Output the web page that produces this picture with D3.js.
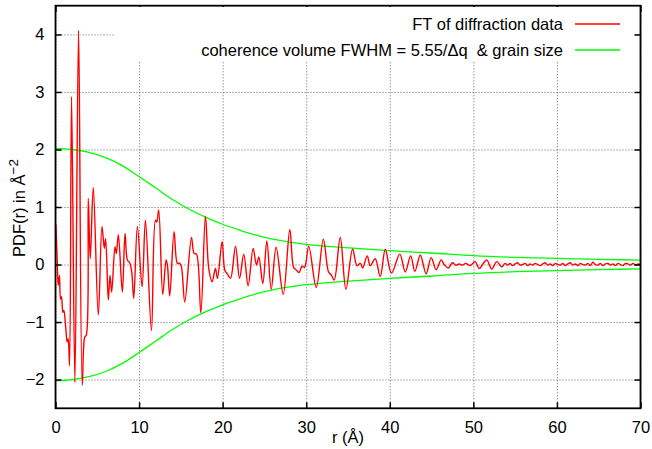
<!DOCTYPE html>
<html>
<head>
<meta charset="utf-8">
<script src="https://cdn.jsdelivr.net/npm/d3@7"></script>
<style>
  body { margin: 0; background: #fff; }
  svg text { font-family: "Liberation Sans", Arial, sans-serif; fill: #000; }
  .grid line { stroke: #666; stroke-width: 1; stroke-dasharray: 1,2; }
  .grid path { display: none; }
  .axis path { display: none; }
  .axis line { stroke: #000; stroke-width: 1.5; }
</style>
</head>
<body>
<div id="chart"></div>
<script>
// r positions (Å) of the transformed diffraction data
const rValues = [
  0.05, 0.2, 0.32, 0.42, 0.48, 0.6, 0.72, 0.88, 1.0, 1.2, 1.4, 1.52, 1.68,
  1.92, 2.32, 2.76, 3.2, 3.5, 3.68, 3.92, 4.16, 4.52, 5.12, 5.56, 5.84, 6.0,
  6.32, 6.52, 6.72, 7.12, 7.28, 7.52, 8.0, 8.32, 8.6, 8.88, 9.12, 9.36, 9.8,
  10.36, 10.76, 11.48, 11.96, 12.12, 12.35, 12.83, 13.23, 13.39, 13.67, 14.19,
  14.59, 14.87, 15.07, 15.47, 16.27, 16.59, 16.87, 17.39, 17.94, 18.34, 18.74,
  19.14, 19.38, 19.94, 20.26, 20.54, 20.94, 21.54, 22.02, 22.53, 23.05, 23.65,
  24.05, 24.33, 24.81, 25.29, 25.81, 26.4, 27.25, 28.04, 28.5, 28.85, 29.15,
  29.5, 29.8, 30.3, 31.2, 32.05, 32.67, 32.99, 33.35, 34.07, 34.75, 35.55,
  36.07, 36.47, 36.75, 37.3, 37.66, 38.26, 38.86, 39.46, 40.2, 41.2, 41.85,
  42.5, 43.0, 43.65, 44.35, 44.95, 45.55, 46.15, 46.5, 47.0, 47.5, 47.9, 48.3,
  48.7, 49.1, 49.6, 50.2, 50.7, 51.1, 51.6, 52.2, 52.8, 53.4, 53.8,
  54.1, 54.4, 54.7, 55.0, 55.3, 55.6, 55.9, 56.2, 56.5, 56.8, 57.1, 57.4,
  57.7, 58.0, 58.3, 58.6, 58.9, 59.2, 59.5, 59.8, 60.1, 60.4, 60.7, 61.0,
  61.3, 61.6, 61.9, 62.2, 62.5, 62.8, 63.1, 63.4, 63.7, 64.0, 64.3, 64.6,
  64.9, 65.2, 65.5, 65.8, 66.1, 66.4, 66.7, 67.0, 67.3, 67.6, 67.9, 68.2,
  68.5, 68.8, 69.1, 69.4, 69.7, 70.0
];

// PDF(r) values
const pdfValues = [
  0.69, 0.1, -0.36, -0.25, -0.19, -0.6, -0.56, -0.83, -0.8, -1.06, -1.35, -1.29, -1.76,
  2.92, -2.05, 4.07, -2.1, -1.26, -1.23, 1.15, 0.1, 1.34, -0.88, 0.66, 0.28, 0.45,
  -0.62, -0.19, -0.48, 0.31, 0.19, 0.52, -0.48, 0.54, 0.08, 0.03, -0.13, -0.59, 0.66,
  -0.39, 0.77, -1.15, 0.77, 0.74, 0.95, -0.52, 0.08, -0.01, -0.55, 0.57,
  0.02, 0.02, -0.04, -0.65, 0.47, 0.19, 0.18, -0.84, 0.84, -0.07, -0.3,
  -0.07, -0.24, 0.4, -0.1, -0.16, -0.24, 0.32, -0.24, 0.18, -0.37, 0.28,
  -0.01, 0.13, -0.33, 0.41, -0.43, 0.3, -0.52, 0.61, -0.05, -0.1, -0.14,
  -0.03, -0.05, 0.32, -0.4, 0.44, -0.13, -0.18, -0.27, 0.47, -0.43, 0.27,
  -0.02, 0.02, -0.06, 0.15, -0.02, 0.1, -0.21, 0.26, -0.15, 0.18, -0.13,
  0.15, -0.12, 0.16, -0.16, 0.12, -0.09, 0.08, 0.0, -0.06, 0.03, -0.01, 0.01,
  -0.01, 0.02, -0.02, 0.05, -0.07, 0.0, 0.08, -0.08, 0.05, -0.04, 0.02,
  -0.01, 0.02, -0.02, 0.01, 0.03, -0.01, 0.0, 0.02, -0.02, 0.01, -0.01, 0.02,
  0.0, -0.02, 0.01, 0.03, -0.01, 0.01, -0.02, 0.02, 0.0, -0.01, 0.02, -0.02,
  0.01, 0.03, -0.01, 0.01, -0.02, 0.02, 0.0, -0.01, 0.02, -0.02, 0.04, 0.0,
  -0.01, 0.02, -0.02, 0.01, 0.02, -0.01, 0.01, -0.02, 0.02, 0.0, -0.02, 0.02,
  0.01, -0.01, 0.02, -0.01, 0.01, 0.0
];

// envelope: coherence volume & grain size (drawn as +/-)
const envR = [0, 2, 4, 6, 8, 10, 12, 14, 16, 18, 20, 22, 24, 26, 28, 30, 33, 36, 40, 45, 50, 55, 60, 65, 70];
const envValues = [2.02, 2.0, 1.95, 1.86, 1.72, 1.53, 1.33, 1.13, 0.96, 0.82, 0.7, 0.6, 0.51, 0.44, 0.39, 0.35, 0.31, 0.28, 0.24, 0.2, 0.155, 0.125, 0.105, 0.09, 0.075];

const xTicks = [0, 10, 20, 30, 40, 50, 60, 70];
const yTicks = [-2, -1, 0, 1, 2, 3, 4];
const legendLabels = ['FT of diffraction data', 'coherence volume FWHM = 5.55/\u0394q  & grain size'];
const legendColors = ['#ff0000', '#00ff00'];

class PdfChart {
  constructor(_config) {
    this.config = {
      parentElement: _config.parentElement,
      containerWidth: 652,
      containerHeight: 449,
      margin: { top: 5.7, right: 11.5, bottom: 40.7, left: 55.5 },
      fontSize: 16.5
    };
    this.initVis();
  }

  initVis() {
    let vis = this;
    const m = vis.config.margin;
    vis.width = vis.config.containerWidth - m.left - m.right;
    vis.height = vis.config.containerHeight - m.top - m.bottom;

    vis.svg = d3.select(vis.config.parentElement).append('svg')
      .attr('width', vis.config.containerWidth)
      .attr('height', vis.config.containerHeight);

    vis.chart = vis.svg.append('g')
      .attr('transform', `translate(${m.left},${m.top})`);

    vis.xScale = d3.scaleLinear().domain([0, 70]).range([0, vis.width]);
    vis.yScale = d3.scaleLinear().domain([-2.5, 4.5]).range([vis.height, 0]);

    vis.renderVis();
  }

  renderVis() {
    let vis = this;
    const x = vis.xScale, y = vis.yScale;
    const fs = vis.config.fontSize;

    // dotted grid
    vis.chart.append('g').attr('class', 'grid')
      .attr('transform', `translate(0,${vis.height})`)
      .call(d3.axisBottom(x).tickValues(xTicks).tickSize(-vis.height).tickFormat(''));
    vis.chart.append('g').attr('class', 'grid')
      .call(d3.axisLeft(y).tickValues(yTicks).tickSize(-vis.width).tickFormat(''));

    // opaque key box hides the grid behind it
    vis.svg.append('rect')
      .attr('x', 115).attr('y', 7)
      .attr('width', 519).attr('height', 55)
      .attr('fill', '#fff');

    // envelope curves
    const envData = envR.map((r, i) => ({ r: r, v: envValues[i] }));
    const envLine = sign => d3.line()
      .x(d => x(d.r))
      .y(d => y(sign * d.v))
      .curve(d3.curveMonotoneX);
    [1, -1].forEach(s => {
      vis.chart.append('path')
        .datum(envData)
        .attr('fill', 'none')
        .attr('stroke', legendColors[1])
        .attr('stroke-width', 1.3)
        .attr('d', envLine(s));
    });

    // PDF curve
    const pdfData = rValues.map((r, i) => ({ r: r, v: pdfValues[i] }));
    vis.chart.append('path')
      .datum(pdfData)
      .attr('fill', 'none')
      .attr('stroke', legendColors[0])
      .attr('stroke-width', 1.4)
      .attr('stroke-linejoin', 'round')
      .attr('d', d3.line().x(d => x(d.r)).y(d => y(d.v)).curve(d3.curveCatmullRom.alpha(0.5)));

    // axes with inward ticks, mirrored on top and right
    const fmt = d => d < 0 ? '\u2212' + Math.abs(d) : d;
    const xAxisG = vis.chart.append('g').attr('class', 'axis')
      .attr('transform', `translate(0,${vis.height})`)
      .call(d3.axisBottom(x).tickValues(xTicks).tickSizeInner(-6).tickSizeOuter(0).tickPadding(12.5).tickFormat(fmt));
    const yAxisG = vis.chart.append('g').attr('class', 'axis')
      .call(d3.axisLeft(y).tickValues(yTicks).tickSizeInner(-6).tickSizeOuter(0).tickPadding(11).tickFormat(fmt));
    vis.chart.append('g').attr('class', 'axis')
      .call(d3.axisTop(x).tickValues(xTicks).tickSizeInner(-6).tickSizeOuter(0).tickFormat(''));
    vis.chart.append('g').attr('class', 'axis')
      .attr('transform', `translate(${vis.width},0)`)
      .call(d3.axisRight(y).tickValues(yTicks).tickSizeInner(-6).tickSizeOuter(0).tickFormat(''));
    [xAxisG, yAxisG].forEach(g => g.selectAll('text')
      .attr('font-size', fs)
      .attr('font-family', '"Liberation Sans", Arial, sans-serif')
      .attr('fill', '#000'));

    // plot border
    vis.chart.append('rect')
      .attr('width', vis.width).attr('height', vis.height)
      .attr('fill', 'none').attr('stroke', '#000').attr('stroke-width', 1.8);

    // axis titles
    vis.svg.append('text')
      .attr('x', 348).attr('y', 443)
      .attr('text-anchor', 'middle')
      .attr('font-size', fs)
      .text('r (\u00c5)');

    const yLabel = vis.svg.append('text')
      .attr('transform', 'translate(25,208) rotate(-90)')
      .attr('text-anchor', 'middle')
      .attr('font-size', fs);
    yLabel.append('tspan').text('PDF(r) in \u00c5');
    yLabel.append('tspan').attr('dy', -7).attr('font-size', 13.5).text('\u22122');

    // key
    legendLabels.forEach((label, i) => {
      const ly = 24 + i * 26;
      vis.svg.append('text')
        .attr('x', 563).attr('y', ly + 6)
        .attr('text-anchor', 'end')
        .attr('font-size', fs)
        .attr('xml:space', 'preserve')
        .style('white-space', 'pre')
        .text(label);
      vis.svg.append('line')
        .attr('x1', 575).attr('x2', 620)
        .attr('y1', ly).attr('y2', ly)
        .attr('stroke', legendColors[i])
        .attr('stroke-width', 1.3);
    });
  }
}

new PdfChart({ parentElement: '#chart' });
</script>
</body>
</html>
